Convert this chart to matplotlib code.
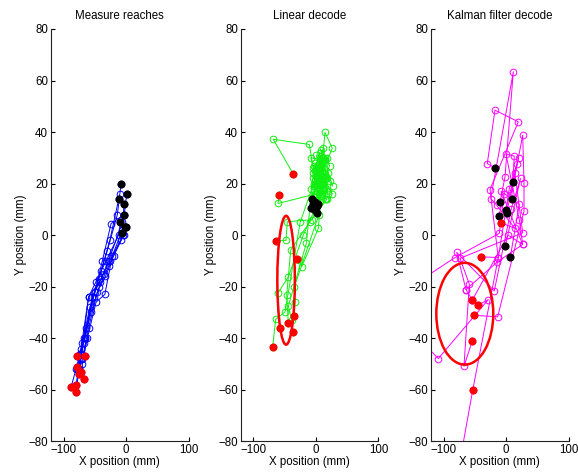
import matplotlib
matplotlib.use("Agg")
import matplotlib.pyplot as plt
from matplotlib.patches import Ellipse

plt.rcParams['font.family'] = ['Liberation Sans', 'DejaVu Sans']

titles = ["Measure reaches", "Linear decode", "Kalman filter decode"]
x_label = "X position (mm)"
y_label = "Y position (mm)"
x_ticks = [-100, 0, 100]
y_ticks = [-80, -60, -40, -20, 0, 20, 40, 60, 80]

# ---- Panel 1: measured reaches (blue) ----
measured_x = [
    [-8, -10, -26, -40, -52, -66, -74, -78],
    [-11, -14, -30, -44, -58, -70, -80, -88],
    [1, -3, -24, -38, -50, -64, -72, -80],
    [-3, -6, -28, -42, -60, -68, -72, -66],
    [-3, -6, -22, -34, -48, -62, -70, -67],
    [-9, -12, -32, -48, -60, -72, -78, -78],
    [0, -4, -20, -33, -46, -60, -70, -76],
    [-6, -8, -28, -43, -56, -68, -76, -80],
    [-1, -5, -26, -36, -54, -66, -74, -72],
]
measured_y = [
    [20, 16, -2, -14, -24, -40, -46, -47],
    [14, 8, -6, -17, -28, -42, -52, -59],
    [16, 8, 4.5, -10, -22, -36, -46, -61],
    [12, 5, -10, -18, -24, -40, -48, -47],
    [8, 2, -8, -23, -26, -40, -50, -56],
    [5, 0, -10, -18, -24, -44, -52, -51],
    [3, 0, -8, -16, -22, -36, -48, -54],
    [1, -2, -12, -20, -30, -42, -52, -58],
    [3, 0, -10, -15, -24, -40, -46, -53],
]

# ---- Panel 2: linear decode (green) ----
linear_x = [
    [-6.6, 3, 8, -2, 6, -4, 12, 2, -10.4, -68, -36],
    [-1.3, 6, 14.7, 26.3, 10, 18, 4, 9, 0, -60.4, -58.3],
    [-5, 2, 10, -3, 12, 5, 16, -6, -45.5, -47.6, -63.6],
    [1.4, 12, 22, 8, 16, 4, 26, 11, 4, -22.6, -26.8, -30.5],
    [-8.2, -3, 10, 26.9, 14, 5, 20, -1, 5, -34.4, -33.3, -34.9],
    [-1.3, 7, -8, 15, 2, 9, -3, 18, -10, -40.1, -46.5, -44],
    [2.4, 15, 5, -8, 10, 22, 1, 13, -20, -43.9, -60.9, -57.2],
    [4, 18, 12, -2, 20, 7, 14, -4, -15, -43.9, -38.5, -37],
    [-3, 10, -5, 15, 3, 19, 8, -2, -25, -49.2, -64.1, -68.9],
]
linear_y = [
    [13.9, 20, 28, 25, 32, 22, 30, 17, 35.2, 37.2, 23.7],
    [12.9, 18, 39.9, 33.7, 24, 30, 21, 15, 16, 12.3, 15.5],
    [11.9, 20, 30, 27, 18, 25, 22, 6, 5.2, -2, -2.3],
    [11.4, 20, 27, 33, 14, 26, 16, 23, 2.6, -12.3, -9.7, -9.3],
    [10.4, 20, 25, 19, 29, 16, 24, 28, 8, -20.1, -25.9, -31.5],
    [9.7, 17, 30, 29, 22, 26, 19, 14, 5, -5.8, -23.3, -33.9],
    [8.7, 14, 24, 18, 28, 21, 31, 18, 0, -16.2, -22.6, -35.9],
    [12, 22, 34, 20, 16, 26, 30, 24, -3, -27.6, -33, -37.5],
    [10, 18, 26, 23, 12, 17, 29, 21, 5, -29.8, -32.7, -43.4],
]
linear_start_x = [-6.6, -1.3, -5, 1.4, -8.2, -1.3, 2.4, 4, -3]
linear_start_y = [13.9, 12.9, 11.9, 11.4, 10.4, 9.7, 8.7, 12, 10]
linear_end_x = [-36, -58.3, -63.6, -30.5, -34.9, -44, -57.2, -37, -68.9]
linear_end_y = [23.7, 15.5, -2.3, -9.3, -31.5, -33.9, -35.9, -37.5, -43.4]
linear_ellipse = (-47.5, -17.5, 28, 50)   # centre x, centre y, width, height (mm)

# ---- Panel 3: Kalman filter decode (magenta) ----
kalman_x = [
    [-18.3, -30.1, -17.8, 19.5, -25.7, -12.5, -40.1],
    [11, 17.9, 26.5, 28.6, 28.6, -13.5, -51.3],
    [-9.8, -1.8, 11.5, -24.6, -15.1, 14.2, -7.7],
    [8.9, 13.1, -0.2, 21.2, 26.5, -15.1, -64.1, -54],
    [-11.4, -3, -10.9, -81.7, -140, -140, -108.3, -28.5, -44.9],
    [-0.8, 14, 26.5, -73.7, -58.8, -67.3, -54],
    [0.9, 20, 5, -12.5, -53.4, -85],
    [-1.3, 23, 8, -18.9, -79, -64.1],
    [6.8, 21, -8, 26.5, 3, -54],
]
kalman_y = [
    [26.1, 27.8, 48.5, 44, 17.7, -8.7, -8.4],
    [20.5, 27.8, 38.8, 20.3, 9.3, -31.7, -31.1],
    [12.7, 22.6, 63.4, 14.2, 11.6, 2.6, 4.8],
    [14, 30.7, 31.5, 5.8, -3.6, -10.6, -21.1, -25.2],
    [7.5, 16, 0.7, -8.7, -18, -40, -47.9, -25, -27.2],
    [9.7, 24, 0.9, -9, -19, -50.9, -41],
    [8.7, 30, 18, -8.7, -60.2, -103],
    [-4.3, 22, 10, -21.6, -6.7, -21.1],
    [-8.4, 12, 17, -3.6, 0, -25.2],
]
kalman_start_x = [-18.3, 11, -9.8, 8.9, -11.4, -0.8, 0.9, -1.3, 6.8]
kalman_start_y = [26.1, 20.5, 12.7, 14, 7.5, 9.7, 8.7, -4.3, -8.4]
kalman_end_x = [-40.1, -7.7, -54, -44.9, -51.3, -54, -53.4]
kalman_end_y = [-8.4, 4.8, -25.2, -27.2, -31.1, -41, -60.2]
kalman_ellipse = (-66, -30.5, 91, 39.5)

FS = 8.3
fig = plt.figure(figsize=(5.78, 4.73), dpi=100)
lefts = [51 / 578, 240.7 / 578, 431 / 578]
width = 137.7 / 578
bottom = 1 - 441.3 / 473
height = (441.3 - 29) / 473
axes = [fig.add_axes([l, bottom, width, height]) for l in lefts]

line_kw = dict(linewidth=0.7, marker='o', markersize=4.8,
               markerfacecolor='none', markeredgewidth=0.7)
dot_kw = dict(linestyle='none', marker='o', markersize=5.8, markeredgewidth=0)


def style(ax, title):
    ax.set_xlim(-120, 100)
    ax.set_ylim(-80, 80)
    ax.set_xticks(x_ticks)
    ax.set_yticks(y_ticks)
    ax.set_xticklabels([str(v).replace('-', '\u2212') for v in x_ticks])
    ax.set_yticklabels([str(v).replace('-', '\u2212') for v in y_ticks])
    for s in ['top', 'right']:
        ax.spines[s].set_visible(False)
    for s in ['left', 'bottom']:
        ax.spines[s].set_linewidth(0.8)
        ax.spines[s].set_color('#222222')
    ax.tick_params(direction='in', length=3, width=0.8, pad=2, labelsize=FS)
    ax.set_title(title, fontsize=FS, pad=7)
    ax.set_xlabel(x_label, fontsize=FS, labelpad=0)
    ax.set_ylabel(y_label, fontsize=FS, labelpad=1)


# Panel 1
ax = axes[0]
for xs, ys in zip(measured_x, measured_y):
    ax.plot(xs, ys, color='#0000ff', **line_kw)
ax.plot([t[0] for t in measured_x], [t[0] for t in measured_y], color='black', **dot_kw)
ax.plot([t[-1] for t in measured_x], [t[-1] for t in measured_y], color='#ff0000', **dot_kw)
style(ax, titles[0])

# Panel 2
ax = axes[1]
for xs, ys in zip(linear_x, linear_y):
    ax.plot(xs, ys, color='#11ee11', **line_kw)
ax.plot(linear_start_x, linear_start_y, color='black', **dot_kw)
ax.plot(linear_end_x, linear_end_y, color='#ff0000', **dot_kw)
cx, cy, w, h = linear_ellipse
ax.add_patch(Ellipse((cx, cy), w, h, fill=False, edgecolor='#ff0000', linewidth=1.8, zorder=5))
style(ax, titles[1])

# Panel 3
ax = axes[2]
for xs, ys in zip(kalman_x, kalman_y):
    ax.plot(xs, ys, color='#ff00ff', **line_kw)
ax.plot(kalman_start_x, kalman_start_y, color='black', **dot_kw)
ax.plot(kalman_end_x, kalman_end_y, color='#ff0000', **dot_kw)
cx, cy, w, h = kalman_ellipse
ax.add_patch(Ellipse((cx, cy), w, h, fill=False, edgecolor='#ff0000', linewidth=1.8, zorder=5))
style(ax, titles[2])

fig.savefig("out.png", dpi=100)
